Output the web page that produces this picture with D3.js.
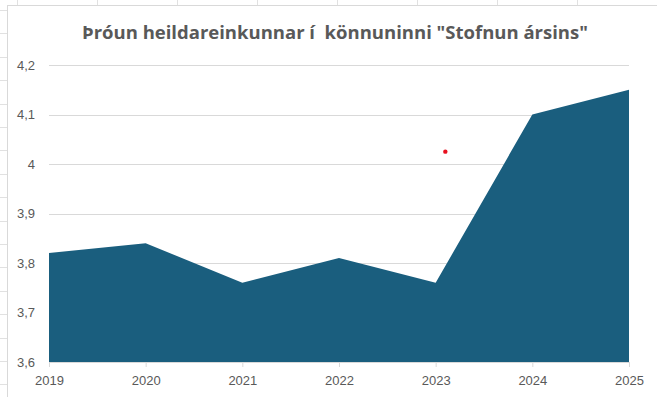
<!DOCTYPE html>
<html>
<head>
<meta charset="utf-8">
<script src="https://cdn.jsdelivr.net/npm/d3@7"></script>
<style>
  body { margin: 0; background: #fff; }
  svg { display: block; }
</style>
</head>
<body>
<div id="chartDiv"></div>
<script>
var years = [2019, 2020, 2021, 2022, 2023, 2024, 2025];
var scores = [3.82, 3.84, 3.76, 3.81, 3.76, 4.10, 4.15];
var yTicks = [3.6, 3.7, 3.8, 3.9, 4.0, 4.1, 4.2];
var titleText = "Þróun heildareinkunnar í  könnuninni \"Stofnun ársins\"";
// stray red marker in the original sheet
var marker = [{ year: 2023.1, value: 4.025 }];

var width = 657, height = 397;

var svg = d3.select("#chartDiv").append("svg")
  .attr("width", width)
  .attr("height", height);

// spreadsheet cell grid behind the chart
var sheet = svg.append("g").attr("stroke", "#e1e1e1").attr("stroke-width", 1);
d3.range(17, width, 80).forEach(function (x) {
  sheet.append("line").attr("x1", x + 0.5).attr("x2", x + 0.5).attr("y1", 0).attr("y2", 5);
});
d3.range(10, height, 23.4).forEach(function (y) {
  sheet.append("line").attr("x1", 0).attr("x2", 7).attr("y1", Math.round(y) + 0.5).attr("y2", Math.round(y) + 0.5);
});

// chart box
svg.append("rect")
  .attr("x", 7.5).attr("y", 5.5)
  .attr("width", width).attr("height", height)
  .attr("fill", "#fff")
  .attr("stroke", "#d9d9d9");

var x = d3.scaleLinear().domain([2019, 2025]).range([49, 629]);
var y = d3.scaleLinear().domain([3.6, 4.2]).range([362, 65]);
var fmt = function (d) { return d3.format(".1~f")(d).replace(".", ","); };

// gridlines
svg.append("g")
  .selectAll("line")
  .data(yTicks.slice(1))
  .enter().append("line")
  .attr("x1", x(2019)).attr("x2", x(2025))
  .attr("y1", function (d) { return Math.round(y(d)) + 0.5; })
  .attr("y2", function (d) { return Math.round(y(d)) + 0.5; })
  .attr("stroke", "#d9d9d9");

// area
var area = d3.area()
  .x(function (d, i) { return x(years[i]); })
  .y0(y(3.6))
  .y1(function (d) { return y(d); });

svg.append("path")
  .datum(scores)
  .attr("d", area)
  .attr("fill", "#1a5e7e");

// y axis
var yAxis = svg.append("g")
  .attr("transform", "translate(" + 49 + ",0)")
  .call(d3.axisLeft(y).tickValues(yTicks).tickFormat(fmt).tickSize(0).tickPadding(14));
yAxis.select(".domain").remove();
yAxis.selectAll("text")
  .attr("fill", "#595959")
  .style("font-family", "'Liberation Sans', Arial, sans-serif")
  .style("font-size", "13px");

// x axis
var xAxis = svg.append("g")
  .attr("transform", "translate(0," + y(3.6) + ")")
  .call(d3.axisBottom(x).tickValues(years).tickFormat(d3.format("d")).tickSizeInner(5).tickSizeOuter(0).tickPadding(9));
xAxis.select(".domain").attr("stroke", "#d9d9d9");
xAxis.selectAll(".tick line").attr("stroke", "#d9d9d9");
xAxis.selectAll("text")
  .attr("fill", "#595959")
  .style("font-family", "'Liberation Sans', Arial, sans-serif")
  .style("font-size", "13px");

// marker
svg.selectAll(".marker")
  .data(marker)
  .enter().append("circle")
  .attr("class", "marker")
  .attr("cx", function (d) { return x(d.year); })
  .attr("cy", function (d) { return y(d.value); })
  .attr("r", 2.2)
  .attr("fill", "#e8101f");

// title
svg.append("text")
  .attr("x", 335)
  .attr("y", 39)
  .attr("text-anchor", "middle")
  .attr("fill", "#595959")
  .style("font-family", "'Open Sans', sans-serif")
  .style("font-weight", "700")
  .style("font-size", "18.5px")
  .style("white-space", "pre")
  .text(titleText);
</script>
</body>
</html>
